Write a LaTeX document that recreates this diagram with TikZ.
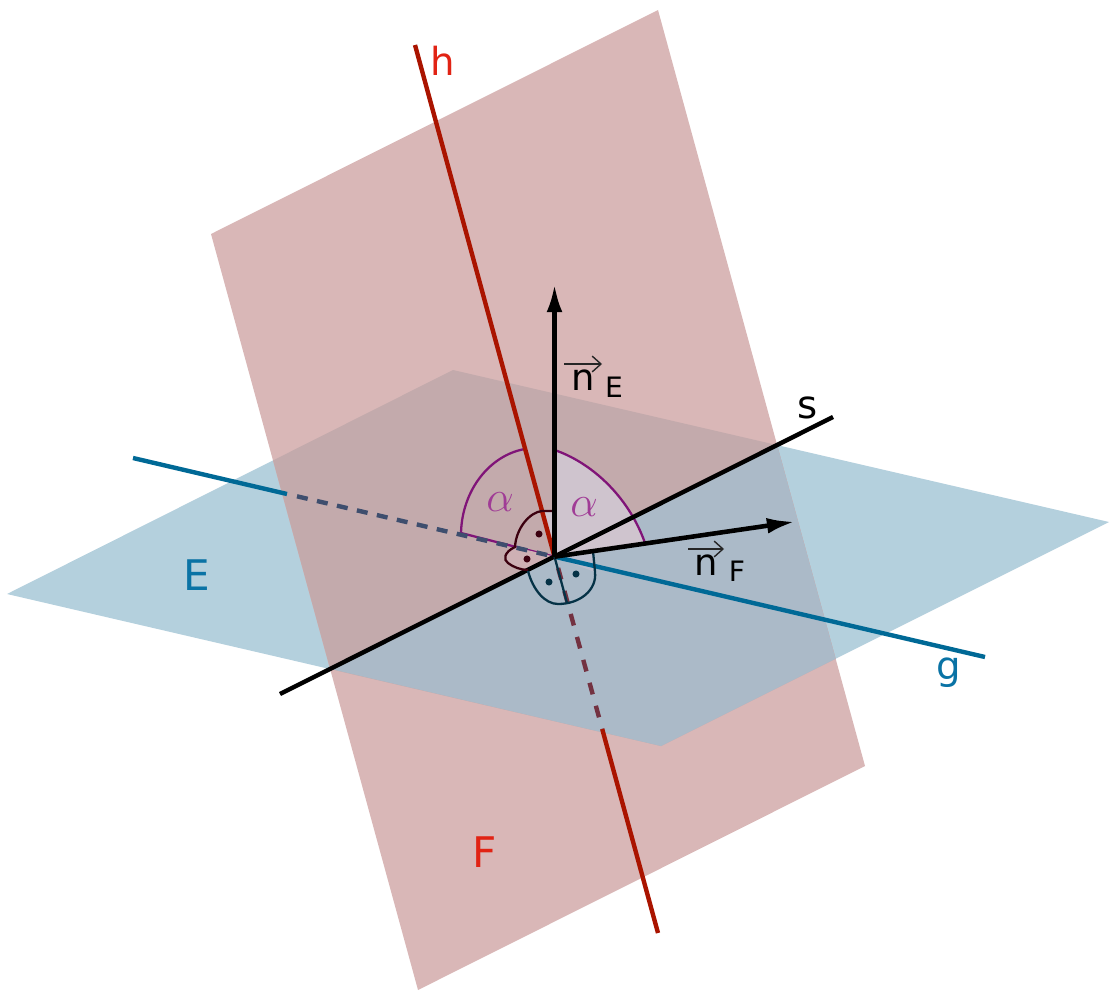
\documentclass[tikz,border=0pt]{standalone}
\usepackage{fontspec}
\setmainfont{DejaVu Sans}
\usetikzlibrary{arrows.meta}
\definecolor{planeE}{RGB}{180,208,221}
\definecolor{planeF}{RGB}{217,183,183}
\definecolor{overUp}{RGB}{195,170,172}
\definecolor{overLo}{RGB}{171,186,200}
\definecolor{wedgeA}{RGB}{207,196,206}
\definecolor{wedgeB}{RGB}{190,190,205}
\definecolor{wedgeC}{RGB}{206,176,180}
\definecolor{blueL}{RGB}{0,105,150}
\definecolor{redL}{RGB}{170,20,0}
\definecolor{redT}{RGB}{225,35,20}
\definecolor{blueT}{RGB}{10,115,165}
\definecolor{purp}{RGB}{128,20,120}
\definecolor{purpT}{RGB}{160,60,150}
\definecolor{dashB}{RGB}{62,78,110}
\definecolor{dashR}{RGB}{115,50,65}
\definecolor{markR}{RGB}{60,0,15}
\definecolor{markB}{RGB}{5,50,70}
\tikzset{
  linethick/.style={line width=2.5pt},
  lab/.style={font=\fontsize{22}{22}\selectfont,inner sep=0pt,anchor=center},
  biglab/.style={lab,font=\fontsize{24}{24}\selectfont},
  alphalab/.style={lab,font=\fontsize{33}{33}\selectfont,text=purpT},
  veclab/.style={lab,font=\fontsize{21}{21}\selectfont},
  sublab/.style={lab,font=\fontsize{16}{16}\selectfont},
  arc line/.style={draw=purp,line width=1.3pt},
  mark line/.style={line width=1.3pt},
  vec/.style={black,line width=2.6pt,-{Latex[length=16pt,width=9pt]}},
  vecbar/.style={black!85,line width=.8pt,-{Straight Barb[length=5pt,width=9pt]}},
}
\begin{document}
\begin{tikzpicture}[x=0.02cm,y=-0.02cm]
\useasboundingbox (0,0) rectangle (1114,997);
\coordinate (E1) at (7,594); \coordinate (E2) at (453,370);
\coordinate (E3) at (1109,522); \coordinate (E4) at (661,746);
\coordinate (F1) at (211,234); \coordinate (F2) at (658,10);
\coordinate (F3) at (865,766); \coordinate (F4) at (418,990);
\coordinate (O) at (554.5,556.7);
\coordinate (sA) at (280,694); \coordinate (sB) at (833,417);
\coordinate (gA) at (133,458); \coordinate (gB) at (985,657);
\coordinate (gS) at (287,494); \coordinate (gD) at (297,496.3);
\coordinate (hA) at (415,45); \coordinate (hB) at (658,933);
\coordinate (hD) at (558.1,568); \coordinate (hS) at (602.2,729); \coordinate (hT) at (567,603);
\coordinate (nE) at (554.5,284); \coordinate (nF) at (795,521.7);
\fill[planeE] (E1)--(E2)--(E3)--(E4)--cycle;
\fill[planeF] (F1)--(F2)--(F3)--(F4)--cycle;
\begin{scope}
\clip (F1)--(F2)--(F3)--(F4)--cycle;
\fill[overUp] (E1)--(E2)--(E3)--(E4)--cycle;
\fill[overLo] (331,669)--(778,445)--(1109,522)--(E4)--cycle;
\end{scope}
% alpha wedge
\fill[wedgeA] (O)--(554.5,450) .. controls (590,462) and (628,495) .. (645,543)--cycle;
\draw[arc line] (554.5,450) .. controls (590,462) and (628,495) .. (645,543);
\draw[arc line] (461,533) .. controls (462,490) and (490,455) .. (525,449);
\draw[purp,line width=1.3pt] (461,533)--(O);
% small sectors
\fill[wedgeA] (O)--(554.5,511)--(541,511)--cycle;
\fill[wedgeB] (O)--(593,551)--(595,572)--cycle;
\fill[wedgeC] (O)--(515,547) .. controls (504,552) and (503,560) .. (508,563) .. controls (513,567) and (521,570) .. (528,570)--cycle;
% lines
\draw[blueL,linethick] (gA)--(gS);
\draw[dashB,linethick,dash pattern=on 6.25pt off 5.42pt] (gD)--(O);
\draw[blueL,linethick] (O)--(gB);
\draw[redL,linethick] (hA)--(O);
\draw[dashR,linethick,dash pattern=on 6.8pt off 6.75pt] (hD)--(hS);
\draw[redL,linethick] (hS)--(hB);
\draw[black,linethick] (sA)--(sB);
% right angle marks
\draw[markR,mark line] (554.5,511)--(542,511) .. controls (530,512) and (516,528) .. (515,547) .. controls (504,552) and (503,560) .. (508,563) .. controls (513,567) and (521,570) .. (528,570);
\draw[markB,mark line] (528,571) .. controls (533,590) and (545,604) .. (558,604) .. controls (580,604) and (597,590) .. (595,572) -- (593,551);
\draw[markB,mark line] (O)--(hT);
\fill[markR] (539,534) circle (2pt) (527,559) circle (2pt);
\fill[markB] (549,582) circle (2pt) (576,574) circle (2pt);
\draw[vec] (O)--(nE);
\draw[vec] (O)--(nF);
% labels
\node[lab,text=redT] (lh) at (443,61) {h};
\node[lab,text=black] (ls) at (808,408) {s};
\node[lab,text=blueT] (lg) at (949,673) {g};
\node[biglab,text=blueT] (lE) at (197,575) {E};
\node[biglab,text=redT] (lF) at (484.5,852) {F};
\node[alphalab] (a1) at (500,502) {$\alpha$};
\node[alphalab] (a2) at (584,507) {$\alpha$};
\node[veclab] (n1) at (583.5,380) {n};
\node[sublab] (n1s) at (614,387) {E};
\draw[vecbar] (564,364)--(602,364);
\node[veclab] (n2) at (706,565) {n};
\node[sublab] (n2s) at (737,571) {F};
\draw[vecbar] (688,549)--(724,549);
\end{tikzpicture}
\end{document}
